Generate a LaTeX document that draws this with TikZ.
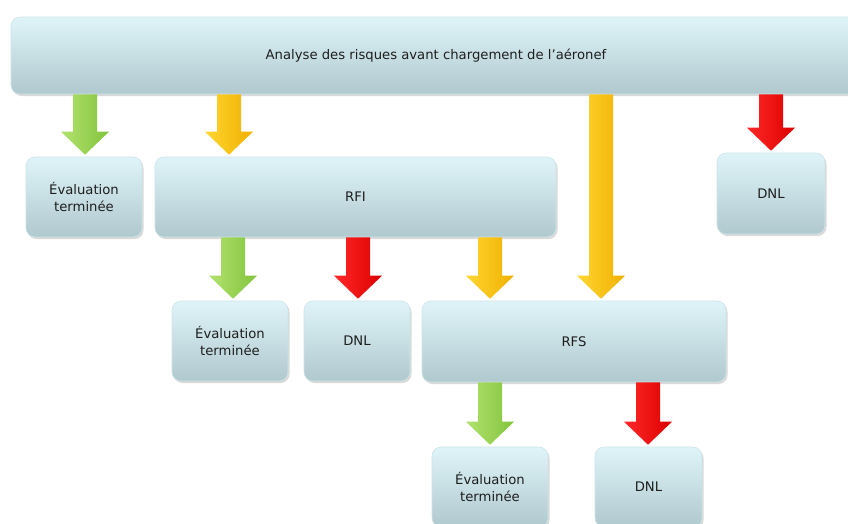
\documentclass[tikz,border=0pt]{standalone}
\usepackage{fontspec}
\setmainfont{DejaVu Sans}
\usetikzlibrary{calc,shadows}
\definecolor{boxtop}{RGB}{222,244,249}
\definecolor{boxbot}{RGB}{176,201,206}
\definecolor{boxline}{RGB}{205,228,233}
\definecolor{txt}{RGB}{30,30,30}
\definecolor{gA}{RGB}{130,196,60}
\definecolor{gB}{RGB}{178,226,110}
\definecolor{yA}{RGB}{240,176,0}
\definecolor{yB}{RGB}{255,214,50}
\definecolor{rA}{RGB}{220,0,0}
\definecolor{rB}{RGB}{255,40,40}
\tikzset{
  boxstyle/.style={rectangle, rounded corners=9pt, top color=boxtop, bottom color=boxbot,
    draw=boxline, line width=0.6pt, text=txt, align=center,
    font=\fontsize{13.2}{17}\selectfont,
    drop shadow={shadow xshift=1.5pt, shadow yshift=-2pt, opacity=0.3}},
  garrow/.style={left color=gB, right color=gA},
  yarrow/.style={left color=yB, right color=yA},
  rarrow/.style={left color=rB, right color=rA},
}
\newcommand\barrow[4]{%
  \shade[#1] let \p0=(#2,0), \p1=(#3.south), \p2=(#4.north) in
   (\x0-12pt,\y1) -- (\x0-12pt,\y2+25pt) -- (\x0-24pt,\y2+25pt) -- (\x0,\y2+2pt)
   -- (\x0+24pt,\y2+25pt) -- (\x0+12pt,\y2+25pt) -- (\x0+12pt,\y1) -- cycle;}
\begin{document}
\begin{tikzpicture}[x=1pt,y=-1pt]
\useasboundingbox (0,0) rectangle (848,523);
\node[boxstyle, minimum width=850pt, minimum height=77pt] (top) at (436,55.5) {Analyse des risques avant chargement de l’aéronef};
\node[boxstyle, minimum width=116pt, minimum height=80pt] (ev1) at (84,197) {Évaluation\\terminée};
\node[boxstyle, minimum width=401pt, minimum height=80pt] (rfi) at (355.5,197) {RFI};
\node[boxstyle, minimum width=108pt, minimum height=81pt] (dnl1) at (771,193.5) {DNL};
\node[boxstyle, minimum width=116pt, minimum height=80pt] (ev2) at (230,341) {Évaluation\\terminée};
\node[boxstyle, minimum width=106pt, minimum height=80pt] (dnl2) at (357,341) {DNL};
\node[boxstyle, minimum width=304pt, minimum height=81pt] (rfs) at (574,341.5) {RFS};
\node[boxstyle, minimum width=116pt, minimum height=80pt] (ev3) at (490,487) {Évaluation\\terminée};
\node[boxstyle, minimum width=107pt, minimum height=80pt] (dnl3) at (648.5,487) {DNL};
\barrow{garrow}{85}{top}{ev1}
\barrow{yarrow}{229}{top}{rfi}
\barrow{yarrow}{601}{top}{rfs}
\barrow{rarrow}{771}{top}{dnl1}
\barrow{garrow}{233}{rfi}{ev2}
\barrow{rarrow}{358}{rfi}{dnl2}
\barrow{yarrow}{490}{rfi}{rfs}
\barrow{garrow}{490}{rfs}{ev3}
\barrow{rarrow}{648}{rfs}{dnl3}
\end{tikzpicture}
\end{document}
